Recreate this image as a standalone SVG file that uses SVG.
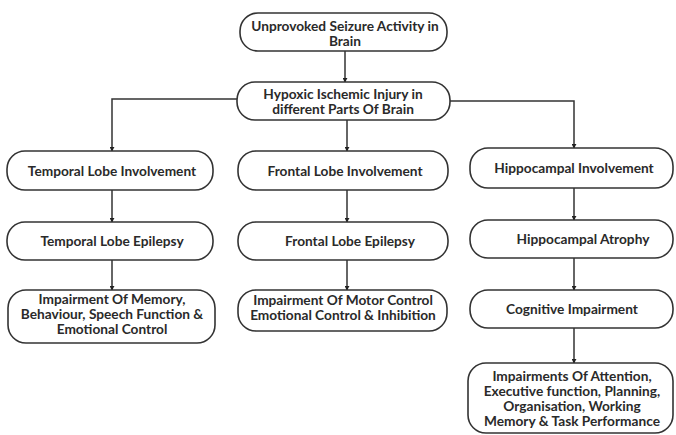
<svg xmlns="http://www.w3.org/2000/svg" width="676" height="435" viewBox="0 0 676 435">
<defs>
<marker id="ah" viewBox="0 0 6 6" refX="5" refY="3" markerWidth="5" markerHeight="5" orient="auto" markerUnits="userSpaceOnUse">
<path d="M0,0 L6,3 L0,6 z" fill="#222"/>
</marker>
<style>
.box{fill:#fff;stroke:#333;stroke-width:1.6}
.t{font-family:Lato,"Open Sans","Liberation Sans",sans-serif;font-weight:bold;font-size:13.7px;fill:#2a2a2a;text-anchor:middle}
.c{fill:none;stroke:#333;stroke-width:1.5;marker-end:url(#ah)}
</style>
</defs>
<rect width="676" height="435" fill="#fff"/>
<g id="connectors">
<path class="c" d="M345,51 V82"/>
<path class="c" d="M237,99 H112 V151"/>
<path class="c" d="M450,101 H574 V148"/>
<path class="c" d="M347,120 V151"/>
<path class="c" d="M112,190 V222"/>
<path class="c" d="M112,260 V290"/>
<path class="c" d="M347,190 V222"/>
<path class="c" d="M347,260 V290"/>
<path class="c" d="M574,188 V220"/>
<path class="c" d="M574,258 V290"/>
<path class="c" d="M574,328 V363"/>
</g>
<g id="seizure">
<rect class="box" x="240" y="13" width="207" height="38" rx="18"/>
<text class="t" x="345" y="30.5">Unprovoked Seizure Activity in</text>
<text class="t" x="345" y="45.5">Brain</text>
</g>
<g id="hypoxic">
<rect class="box" x="237" y="82" width="213" height="38" rx="18"/>
<text class="t" x="343" y="98.5">Hypoxic Ischemic Injury in</text>
<text class="t" x="343" y="113.5">different Parts Of Brain</text>
</g>
<g id="temporal-inv">
<rect class="box" x="7" y="151" width="206" height="39" rx="18"/>
<text class="t" x="112" y="175.5">Temporal Lobe Involvement</text>
</g>
<g id="frontal-inv">
<rect class="box" x="238" y="151" width="210" height="39" rx="18"/>
<text class="t" x="345" y="175.5">Frontal Lobe Involvement</text>
</g>
<g id="hippo-inv">
<rect class="box" x="470" y="148" width="203" height="40" rx="18"/>
<text class="t" x="574" y="173">Hippocampal Involvement</text>
</g>
<g id="temporal-epi">
<rect class="box" x="7" y="222" width="206" height="38" rx="18"/>
<text class="t" x="112" y="246">Temporal Lobe Epilepsy</text>
</g>
<g id="frontal-epi">
<rect class="box" x="238" y="222" width="210" height="38" rx="18"/>
<text class="t" x="350" y="246">Frontal Lobe Epilepsy</text>
</g>
<g id="hippo-atrophy">
<rect class="box" x="470" y="220" width="203" height="38" rx="18"/>
<text class="t" x="583" y="244">Hippocampal Atrophy</text>
</g>
<g id="temporal-imp">
<rect class="box" x="8" y="290" width="207" height="53" rx="18"/>
<text class="t" x="112" y="304">Impairment Of Memory,</text>
<text class="t" x="112" y="319">Behaviour, Speech Function &amp;</text>
<text class="t" x="112" y="334">Emotional Control</text>
</g>
<g id="frontal-imp">
<rect class="box" x="238" y="290" width="209" height="41" rx="18"/>
<text class="t" x="343" y="305">Impairment Of Motor Control</text>
<text class="t" x="343" y="320">Emotional Control &amp; Inhibition</text>
</g>
<g id="cognitive">
<rect class="box" x="470" y="290" width="203" height="38" rx="18"/>
<text class="t" x="572" y="314">Cognitive Impairment</text>
</g>
<g id="final">
<rect class="box" x="468" y="363" width="205" height="70" rx="18"/>
<text class="t" x="572" y="381">Impairments Of Attention,</text>
<text class="t" x="572" y="396">Executive function, Planning,</text>
<text class="t" x="572" y="411">Organisation, Working</text>
<text class="t" x="572" y="426">Memory &amp; Task Performance</text>
</g>
</svg>
